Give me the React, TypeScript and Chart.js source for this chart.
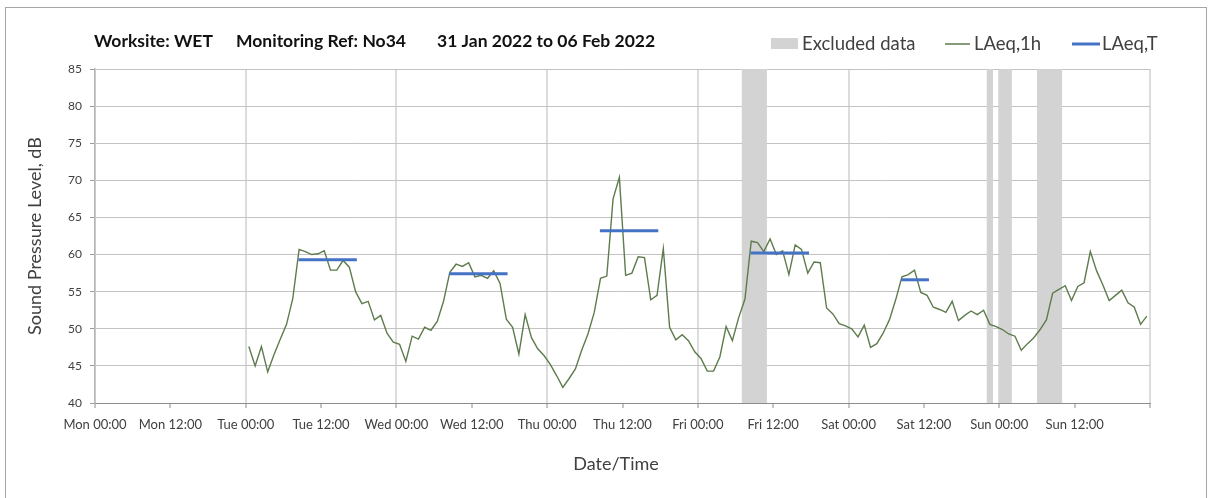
import React, { useEffect, useRef } from 'react';
import { Chart, registerables } from 'chart.js';

Chart.register(...registerables);

// ---- Data ----
const TITLE_PARTS = ['Worksite: WET', 'Monitoring Ref: No34', '31 Jan 2022 to 06 Feb 2022'];
const X_TICK_LABELS = [
  'Mon 00:00', 'Mon 12:00', 'Tue 00:00', 'Tue 12:00', 'Wed 00:00', 'Wed 12:00',
  'Thu 00:00', 'Thu 12:00', 'Fri 00:00', 'Fri 12:00', 'Sat 00:00', 'Sat 12:00',
  'Sun 00:00', 'Sun 12:00', '',
];
const Y_MIN = 40;
const Y_MAX = 85;
const Y_STEP = 5;
const X_MAX_HOURS = 168;

// hourly LAeq,1h values, first value is Tue 00:00–01:00 (plotted at mid-hour)
const FIRST_HOUR_MID = 24.5;
const LAEQ_1H = [
  47.6, 45.0, 47.6, 44.2, 46.5, 48.6, 50.6, 54.1, 60.7, 60.4, 60.0, 60.1,
  60.5, 57.9, 57.9, 59.2, 58.3, 55.0, 53.4, 53.7, 51.2, 51.8, 49.4, 48.2,
  47.9, 45.6, 49.0, 48.6, 50.2, 49.8, 51.0, 53.7, 57.6, 58.7, 58.4, 58.9,
  57.0, 57.2, 56.8, 57.8, 56.1, 51.3, 50.2, 46.6, 51.9, 48.8, 47.3, 46.4,
  45.2, 43.7, 42.1, 43.3, 44.6, 47.1, 49.3, 52.2, 56.8, 57.1, 67.5, 70.4,
  57.2, 57.5, 59.7, 59.6, 53.9, 54.5, 60.8, 50.2, 48.5, 49.2, 48.4, 46.9,
  46.0, 44.3, 44.3, 46.2, 50.3, 48.4, 51.5, 54.0, 61.8, 61.6, 60.4, 62.1,
  60.0, 60.5, 57.3, 61.3, 60.7, 57.5, 59.0, 58.9, 52.8, 52.0, 50.7, 50.4,
  50.0, 48.9, 50.5, 47.5, 48.0, 49.4, 51.2, 53.9, 57.0, 57.3, 57.9, 54.9,
  54.5, 52.9, 52.6, 52.2, 53.7, 51.1, 51.8, 52.4, 51.9, 52.5, 50.6, 50.3,
  49.9, 49.3, 49.0, 47.1, 48.0, 48.8, 49.9, 51.2, 54.8, 55.3, 55.8, 53.8,
  55.7, 56.2, 60.4, 57.8, 55.9, 53.8, 54.5, 55.2, 53.5, 52.9, 50.6, 51.7,
];

// LAeq,T daytime periods (hours from Mon 00:00)
const LAEQ_T_START = [32.4, 56.4, 80.4, 104.4, 128.4];
const LAEQ_T_END = [41.7, 65.7, 89.7, 113.7, 132.8];
const LAEQ_T_VALUE = [59.3, 57.4, 63.2, 60.2, 56.6];

// Excluded data periods (hours from Mon 00:00)
const EXCLUDED_START = [103, 142, 144, 150];
const EXCLUDED_END = [107, 143, 146, 154];

// ---- Styles ----
const FONT = 'Lato, "Open Sans", sans-serif';
const TEXT_COLOR = '#404040';
const GREEN = '#5d7b4c';
const BLUE = '#4472c4';
const GREY_BAND = '#d3d3d3';

const decorPlugin = {
  id: 'decor',
  beforeDatasetsDraw(chart: any) {
    const { ctx, chartArea, scales } = chart;
    ctx.save();
    ctx.fillStyle = GREY_BAND;
    for (let i = 0; i < EXCLUDED_START.length; i++) {
      const x0 = scales.x.getPixelForValue(EXCLUDED_START[i]);
      const x1 = scales.x.getPixelForValue(EXCLUDED_END[i]);
      ctx.fillRect(x0, chartArea.top, x1 - x0, chartArea.bottom - chartArea.top);
    }
    ctx.restore();
  },
  afterDraw(chart: any) {
    const { ctx, chartArea } = chart;
    ctx.save();
    // outer frame
    ctx.strokeStyle = '#a6a6a6';
    ctx.lineWidth = 1;
    ctx.strokeRect(5.5, 7.5, 1201, 520);

    // title
    ctx.fillStyle = '#111111';
    ctx.textBaseline = 'middle';
    ctx.textAlign = 'left';
    ctx.font = `bold 17.5px ${FONT}`;
    const titleX = [94, 236, 437];
    TITLE_PARTS.forEach((p, i) => {
      ctx.fillText(p, titleX[i], 41);
    });

    // legend
    const ly = 44;
    ctx.font = `18.5px ${FONT}`;
    ctx.fillStyle = GREY_BAND;
    ctx.fillRect(771, 38, 27, 11);
    ctx.fillStyle = TEXT_COLOR;
    ctx.fillText('Excluded data', 802, ly);
    ctx.strokeStyle = GREEN;
    ctx.lineWidth = 1.5;
    ctx.beginPath();
    ctx.moveTo(945, ly);
    ctx.lineTo(970, ly);
    ctx.stroke();
    ctx.fillText('LAeq,1h', 974, ly);
    ctx.strokeStyle = BLUE;
    ctx.lineWidth = 3;
    ctx.beginPath();
    ctx.moveTo(1072, ly);
    ctx.lineTo(1100, ly);
    ctx.stroke();
    ctx.fillText('LAeq,T', 1102, ly);

    // axis titles
    ctx.font = `18px ${FONT}`;
    ctx.textAlign = 'center';
    ctx.fillText('Date/Time', 616, 464);
    ctx.translate(35, (chartArea.top + chartArea.bottom) / 2);
    ctx.rotate(-Math.PI / 2);
    ctx.fillText('Sound Pressure Level, dB', 0, 0);
    ctx.restore();
  },
};

export default function App() {
  const canvasRef = useRef<HTMLCanvasElement | null>(null);

  useEffect(() => {
    const canvas = canvasRef.current;
    if (!canvas) return;

    const lineData = LAEQ_1H.map((v, i) => ({ x: FIRST_HOUR_MID + i, y: v }));
    const tDatasets = LAEQ_T_VALUE.map((v, i) => ({
      label: 'LAeq,T',
      data: [
        { x: LAEQ_T_START[i], y: v },
        { x: LAEQ_T_END[i], y: v },
      ],
      borderColor: BLUE,
      borderWidth: 3,
      pointRadius: 0,
      order: 0,
    }));

    const chart = new Chart(canvas, {
      type: 'line',
      data: {
        datasets: [
          {
            label: 'LAeq,1h',
            data: lineData,
            borderColor: GREEN,
            borderWidth: 1.4,
            pointRadius: 0,
            tension: 0,
            order: 1,
          },
          ...tDatasets,
        ],
      },
      plugins: [decorPlugin],
      options: {
        responsive: false,
        animation: false,
        devicePixelRatio: 1,
        layout: { padding: { left: 0, right: 58, top: 69, bottom: 0 } },
        plugins: {
          legend: { display: false },
          title: { display: false },
          tooltip: { enabled: false },
        },
        scales: {
          x: {
            type: 'linear',
            min: 0,
            max: X_MAX_HOURS,
            afterFit: (scale: any) => {
              scale.height = 95;
            },
            ticks: {
              stepSize: 12,
              autoSkip: false,
              maxRotation: 0,
              minRotation: 0,
              padding: 9,
              color: TEXT_COLOR,
              font: { family: FONT, size: 13 },
              callback: (value: any) => X_TICK_LABELS[Math.round(Number(value) / 12)] ?? '',
            },
            grid: {
              color: (ctx: any) =>
                ctx.tick && ctx.tick.value % 24 === 0 ? '#dcdcdc' : 'rgba(0,0,0,0)',
              lineWidth: 2,
              tickLength: 5,
              tickColor: '#8c8c8c',
              tickWidth: 1,
            },
            border: { color: '#8c8c8c', width: 1 },
          },
          y: {
            min: Y_MIN,
            max: Y_MAX,
            afterFit: (scale: any) => {
              scale.width = 95;
            },
            ticks: {
              stepSize: Y_STEP,
              padding: 8,
              color: TEXT_COLOR,
              font: { family: FONT, size: 12 },
            },
            grid: {
              color: '#c3c3c3',
              lineWidth: 1,
              tickLength: 5,
              tickColor: '#9a9a9a',
            },
            border: { color: '#b5b5b5', width: 1.5 },
          },
        },
      },
    });

    return () => chart.destroy();
  }, []);

  return (
    <div style={{ position: 'absolute', left: 0, top: 0, width: 1208, height: 498, background: '#ffffff' }}>
      <canvas ref={canvasRef} width={1208} height={498} />
    </div>
  );
}
